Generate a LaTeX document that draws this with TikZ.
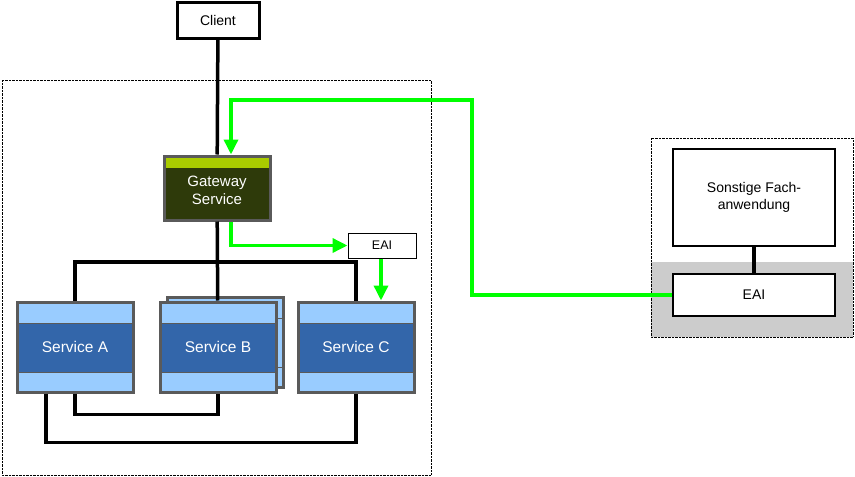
\documentclass[tikz,border=0pt]{standalone}
\usepackage{fontspec}
\setmainfont{Liberation Sans}
\usetikzlibrary{calc,arrows.meta}
\definecolor{srvlight}{HTML}{99CCFF}
\definecolor{srvdark}{HTML}{3366AA}
\definecolor{gwdark}{HTML}{2E3A0A}
\definecolor{gwtop}{HTML}{AACC00}
\definecolor{frame}{HTML}{5A5A5A}
\definecolor{flow}{HTML}{00FF00}
\tikzset{%
  >=latex,
  box/.style={draw=black,line width=2pt,fill=white,inner sep=0pt,
    font=\fontsize{14}{17}\selectfont,align=center},
  service/.style={draw=frame,line width=3pt,fill=srvdark,inner sep=0pt,
    minimum width=116pt,minimum height=90pt,text=white,
    font=\fontsize{15.5}{18}\selectfont,
    path picture={
      \fill[srvlight] (path picture bounding box.north west) rectangle
        ($(path picture bounding box.north east)+(0,-21pt)$);
      \fill[srvlight] (path picture bounding box.south west) rectangle
        ($(path picture bounding box.south east)+(0,20pt)$);
      \draw[thick] ($(path picture bounding box.north west)+(0,-21pt)$) --
        ($(path picture bounding box.north east)+(0,-21pt)$);
      \draw[thick] ($(path picture bounding box.south west)+(0,20pt)$) --
        ($(path picture bounding box.south east)+(0,20pt)$);
    }},
  link/.style={line width=3.5pt,black},
  green flow/.style={line width=3.5pt,flow,-{Triangle[length=15pt,width=14pt]}},
  group/.style={draw=black,densely dotted,thin}
}
\begin{document}
\begin{tikzpicture}[x=1pt,y=-1pt]

%% frame
\useasboundingbox (0,0) rectangle (855,477);

%% groups
\draw[group] (2,80) rectangle (431,475);
\fill[black!20] (651,262) rectangle (853,337);
\draw[group] (651,138) rectangle (853,337);

%% nodes
\node[box,line width=3pt,minimum width=82pt,minimum height=36pt] (client) at (218,20) {Client};
\node[draw=frame,line width=3pt,fill=gwdark,text=white,inner sep=0pt,
  minimum width=106pt,minimum height=64pt,align=center,
  font=\fontsize{15}{18}\selectfont,
  path picture={\fill[gwtop] (path picture bounding box.north west) rectangle
    ($(path picture bounding box.north east)+(0,-12pt)$);}]
  (gateway) at (217,188) {\\[-2pt]Gateway\\Service};
\node[box,line width=1pt,minimum width=68pt,minimum height=25pt,
  font=\fontsize{12.5}{15}\selectfont] (eai) at (382,245.5) {EAI};
\node[service,fill=srvlight] (shadow) at (225,342) {};
\node[service] (srvA) at (75,347) {Service A};
\node[service] (srvB) at (218,347) {Service B};
\node[service] (srvC) at (356,347) {Service C};
\node[box,minimum width=162pt,minimum height=97pt] (fach) at (754,197.5) {Sonstige Fach-\\anwendung};
\node[box,minimum width=162pt,minimum height=42pt] (eaiR) at (754,295) {EAI};

%% black links
\coordinate (bus) at (218,262);
\draw[link] (client) -- (gateway);
\draw[link] (gateway) -- (srvB);
\draw[link] (srvA.north) |- (bus) -| (srvC.north);
\draw[link] (srvA.south) -- ++(0,21) -| (srvB.south);
\draw[link] ([xshift=-29pt]srvA.south) -- ++(0,49) -| (srvC.south);
\draw[link] (fach) -- (eaiR);

%% green flows
\draw[green flow] ([xshift=14pt]gateway.south) |- (eai.west);
\draw[green flow] ([xshift=-1pt]eai.south) -- ([xshift=25pt]srvC.north);
\draw[green flow] (eaiR.west) -| (472,100) -| ([xshift=14pt]gateway.north);

\end{tikzpicture}
\end{document}
